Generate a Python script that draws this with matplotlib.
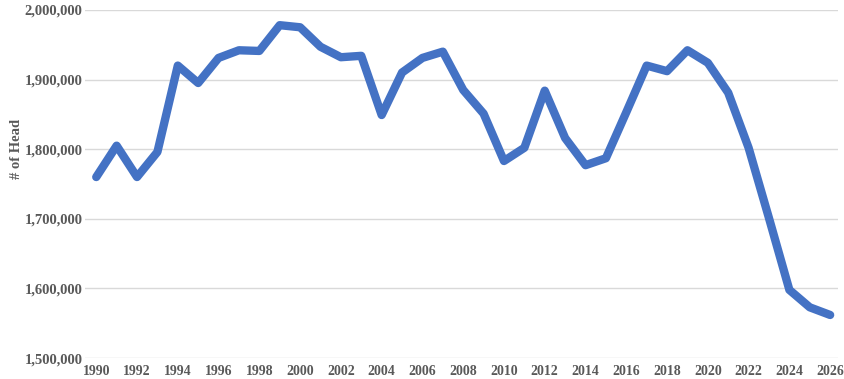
import matplotlib
matplotlib.use("Agg")
import matplotlib.pyplot as plt
from matplotlib.ticker import FuncFormatter

# 年ごとの頭数
years = list(range(1990, 2027))
head = [1760000, 1805000, 1760000, 1796000, 1920000, 1895000, 1931000, 1942000,
        1941000, 1978000, 1975000, 1947000, 1932000, 1934000, 1849000, 1910000,
        1931000, 1940000, 1885000, 1851000, 1783000, 1802000, 1884000, 1816000,
        1777000, 1787000, 1853000, 1920000, 1912000, 1942000, 1924000, 1881000,
        1802000, 1701000, 1598000, 1573000, 1562000]
year_ticks = list(range(1990, 2027, 2))

plt.rcParams["font.family"] = ["Liberation Serif", "DejaVu Serif"]
plt.rcParams["font.weight"] = "bold"

fig = plt.figure(figsize=(8.44, 3.79), dpi=100)
ax = fig.add_axes([0.101, 0.055, 0.892, 0.919])

ax.plot(years, head, color="#4472C4", linewidth=6, solid_joinstyle="round",
        solid_capstyle="round", zorder=3)

ax.set_ylim(1500000, 2000000)
ax.set_xlim(1989.46, 2026.39)
ax.set_yticks(range(1500000, 2000001, 100000))
ax.set_xticks(year_ticks)
ax.yaxis.set_major_formatter(FuncFormatter(lambda v, p: "{:,.0f}".format(v)))
ax.grid(axis="y", color="#D9D9D9", linewidth=1)
ax.set_axisbelow(True)
for s in ax.spines.values():
    s.set_visible(False)
ax.tick_params(axis="y", length=0, labelsize=10.5, colors="#595959", pad=2)
ax.tick_params(axis="x", length=0, labelsize=10, colors="#595959", pad=5)
ax.set_ylabel("# of Head", fontsize=10.5, color="#595959", fontweight="bold")
ax.yaxis.set_label_coords(-0.083, 0.6)

fig.savefig("out.png", dpi=100)
plt.close(fig)
